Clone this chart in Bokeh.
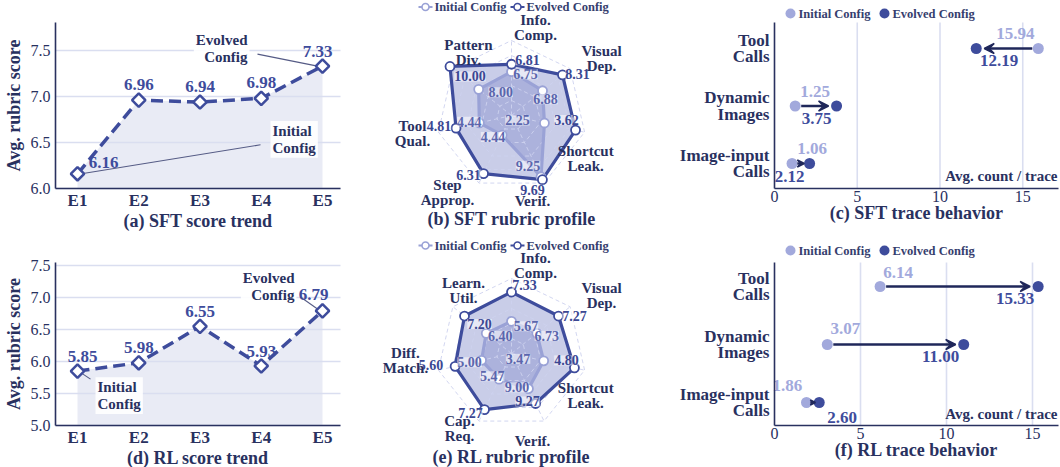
import numpy as np
from bokeh.plotting import figure
from bokeh.layouts import row, column
from bokeh.models import Range1d, FixedTicker, Arrow, VeeHead, PrintfTickFormatter
from bokeh.core.properties import value
from bokeh.embed import file_html
from bokeh.resources import INLINE

FONT = "Liberation Serif"
DARK = "#29315f"
MAIN = "#3e4c9c"
LIGHT = "#a2a9dc"
ARROW = "#1f275a"
GRID = "#dadef0"
TF = value(FONT)

# ---------------- data ----------------
epochs = ["E1", "E2", "E3", "E4", "E5"]
sft_scores = [6.16, 6.96, 6.94, 6.98, 7.33]
rl_scores = [5.85, 5.98, 6.55, 5.93, 6.79]

sft_axes = ["Info.\nComp.", "Visual\nDep.", "Shortcut\nLeak.", "Verif.", "Step\nApprop.", "Tool\nQual.", "Pattern\nDiv."]
sft_initial = [6.75, 6.88, 2.25, 9.25, 4.44, 4.44, 8.00]
sft_evolved = [6.81, 8.31, 3.62, 9.69, 6.31, 4.81, 10.00]
rl_axes = ["Info.\nComp.", "Visual\nDep.", "Shortcut\nLeak.", "Verif.", "Cap.\nReq.", "Diff.\nMatch.", "Learn.\nUtil."]
rl_initial = [5.67, 6.73, 3.47, 9.00, 5.47, 5.00, 6.40]
rl_evolved = [7.33, 7.27, 4.80, 9.27, 7.27, 5.60, 7.20]

# per-axis radial scale (min, max) of each radar
sft_axis_lo = [6.40, 4.65, 0.80, 0.0, 3.49, 3.93, 5.71]
sft_axis_hi = [7.00, 8.86, 4.02, 10.2, 6.77, 5.09, 9.80]
rl_axis_lo = [3.84, 6.10, 2.08, 8.36, 3.95, 4.32, 5.47]
rl_axis_hi = [8.10, 7.56, 5.24, 9.59, 7.95, 5.98, 7.63]

behaviors = ["Image-input\nCalls", "Dynamic\nImages", "Tool\nCalls"]
sft_beh_initial = [1.06, 1.25, 15.94]
sft_beh_evolved = [2.12, 3.75, 12.19]
rl_beh_initial = [1.86, 3.07, 6.14]
rl_beh_evolved = [2.60, 11.00, 15.33]


def base_fig(**kw):
    p = figure(output_backend="svg", toolbar_location=None, min_border=0, **kw)
    p.outline_line_color = None
    p.background_fill_color = "white"
    p.border_fill_color = "white"
    p.grid.visible = False
    return p


def style_axis(ax, label_size="15px", bold=False):
    ax.axis_line_color = DARK
    ax.axis_line_width = 1.6
    ax.major_tick_line_color = None
    ax.minor_tick_line_color = None
    ax.major_tick_out = 0
    ax.major_tick_in = 0
    ax.minor_tick_out = 0
    ax.minor_tick_in = 0
    ax.major_label_text_font = FONT
    ax.major_label_text_font_size = label_size
    ax.major_label_text_color = DARK
    ax.major_label_text_font_style = "bold" if bold else "normal"
    ax.axis_label_text_font = FONT
    ax.axis_label_text_font_style = "bold"
    ax.axis_label_text_color = DARK
    ax.axis_label_text_font_size = "18px"


def txt(p, x, y, t, size, color, align="center", dx=0, dy=0, lh=1.2, bg=None, bg_alpha=0.55):
    kw = dict(background_fill_color=bg, background_fill_alpha=bg_alpha) if bg else {}
    p.text(x=list(x), y=list(y), text=list(t), x_offset=dx, y_offset=dy, text_align=align,
           text_baseline="middle", text_font=TF, text_font_style="bold", text_font_size=size,
           text_color=color, text_line_height=lh, **kw)


# ---------------- line panels ----------------
# line panel spans page x 0..345; plot area x 55..340
def line_panel(scores, y0, px_per, y_axis_px, y_top_px, ticks, title, row_top, h,
               lab_off, ev_ann, in_ann):
    pxx = 61.25                      # px per epoch step
    e1_px = 77.0                     # E1 position (px in page)
    xs, xe = (0 - e1_px) / pxx, (345 - e1_px) / pxx
    x_lo, x_hi = (55 - e1_px) / pxx, (340 - e1_px) / pxx
    ys = y0 - (row_top + h - y_axis_px) / px_per
    ye = y0 + (y_axis_px - row_top) / px_per
    y_hi = y0 + (y_axis_px - y_top_px) / px_per
    p = base_fig(width=345, height=h, x_range=Range1d(xs, xe), y_range=Range1d(ys, ye))
    x = list(range(len(scores)))
    p.varea(x=x, y1=[y0] * len(x), y2=scores, fill_color="#e9ebf5", level="image")
    p.segment(x0=[x_lo] * len(ticks), y0=ticks, x1=[x_hi] * len(ticks), y1=ticks,
              line_color=GRID, line_width=1.6, level="underlay")
    p.xaxis.ticker = FixedTicker(ticks=x)
    p.xaxis.major_label_overrides = {i: e for i, e in enumerate(epochs)}
    p.yaxis.ticker = FixedTicker(ticks=ticks)
    p.yaxis.formatter = PrintfTickFormatter(format="%.1f")
    style_axis(p.xaxis[0], "17px", True)
    style_axis(p.yaxis[0], "16px", False)
    p.xaxis.fixed_location = y0
    p.xaxis.bounds = (x_lo, x_hi)
    p.yaxis.fixed_location = x_lo
    p.yaxis.bounds = (y0, y_hi)
    p.xaxis.major_label_standoff = 2
    p.yaxis.major_label_standoff = 5
    p.xaxis.axis_label = title
    p.xaxis.axis_label_standoff = -2
    p.yaxis.axis_label = "Avg. rubric score"
    p.yaxis.axis_label_standoff = 4

    for (idx, dx, dy, align, (s0x, s0y, s1x, s1y), t) in (ev_ann, in_ann):
        xi, yi = x[idx], scores[idx]
        p.segment(x0=xi + s0x / pxx, y0=yi - s0y / px_per, x1=xi + s1x / pxx, y1=yi - s1y / px_per,
                  line_color="#555b85", line_width=1.1)
        p.text(x=[xi], y=[yi], text=[t], x_offset=dx, y_offset=dy, text_align=align,
               text_baseline="middle", text_font=TF, text_font_style="bold", text_font_size="15px",
               text_color=DARK, text_line_height=1.05,
               background_fill_color="white", background_fill_alpha=0.9, padding=2)

    p.line(x, scores, line_color=MAIN, line_width=3.5, line_dash="12 6")
    p.scatter(x, scores, marker="square", angle=np.pi / 4, size=9.5, fill_color="white",
              line_color=MAIN, line_width=2.5)
    p.text(x=x, y=scores, text=[f"{v:.2f}" for v in scores],
           x_offset=[o[0] for o in lab_off], y_offset=[o[1] for o in lab_off],
           text_align="center", text_baseline="middle", text_font=TF, text_font_style="bold",
           text_font_size="17px", text_color=MAIN)
    return p


sft_line = line_panel(sft_scores, 6.0, 92.0, 188.0, 22.4, [6.0, 6.5, 7.0, 7.5], "(a) SFT score trend", 0, 232,
                      [(26, -11), (0, -16), (0, -16), (0, -16), (-5, -15)],
                      (4, -73, -18, "right", (-65, -12, -5, 0), "Evolved\nConfig"),
                      (0, 193, -34.5, "left", (4, 0, 183, -29), "Initial\nConfig"))
rl_line = line_panel(rl_scores, 5.0, 64.0, 425.0, 262.0, [5.0, 5.5, 6.0, 6.5, 7.0, 7.5], "(d) RL score trend",
                     232, 235,
                     [(5, -15), (0, -15), (0, -15), (0, -14), (-9, -16)],
                     (4, -26, -24.5, "right", (-22, -14, -5, -2), "Evolved\nConfig"),
                     (0, 18, 24.5, "left", (4, 2, 13, 8), "Initial\nConfig"))


# ---------------- radar panels ----------------
def radar_panel(axes, init, evo, lo, hi, cy, row_top, h, title, lab_off, evo_off, init_off, leg_y):
    cx, RAD = 511.0, 75.0
    p = base_fig(width=320, height=h, x_range=Range1d(345, 665), y_range=Range1d(row_top + h, row_top),
                 x_axis_location=None, y_axis_location=None)
    n = len(axes)
    th = np.pi / 2 - 2 * np.pi * np.arange(n) / n
    c, s = np.cos(th), np.sin(th)

    def pts(vals):
        r = (np.array(vals) - np.array(lo)) / (np.array(hi) - np.array(lo))
        return cx + RAD * r * c, cy - RAD * r * s

    ex, ey = pts(evo)
    ix, iy = pts(init)
    p.patch(list(ex), list(ey), fill_color="#c6cae7", fill_alpha=0.95, line_color=None)
    p.patch(list(ix), list(iy), fill_color="#949dd2", fill_alpha=0.55, line_color=None)
    for f in [0.2, 0.4, 0.6, 0.8, 1.0]:
        gx = list(cx + RAD * f * c) + [cx + RAD * f * c[0]]
        gy = list(cy - RAD * f * s) + [cy - RAD * f * s[0]]
        p.line(gx, gy, line_color="#cdd2ee", line_width=1, line_dash="4 3", line_alpha=0.9)
    p.segment(x0=[cx] * n, y0=[cy] * n, x1=list(cx + RAD * c), y1=list(cy - RAD * s),
              line_color="#cdd2ee", line_width=1, line_dash="4 3", line_alpha=0.9)
    p.line(list(ix) + [ix[0]], list(iy) + [iy[0]], line_color="#9aa2d6", line_width=3.2)
    p.line(list(ex) + [ex[0]], list(ey) + [ey[0]], line_color=MAIN, line_width=3.2)
    p.scatter(ix, iy, size=9, fill_color="white", line_color="#9aa2d6", line_width=1.8)
    p.scatter(ex, ey, size=9, fill_color="white", line_color=MAIN, line_width=1.8)
    txt(p, ix, iy, [f"{v:.2f}" for v in init], "14px", "#5b66ad",
        dx=[o[0] for o in init_off], dy=[o[1] for o in init_off], bg="white")
    txt(p, ex, ey, [f"{v:.2f}" for v in evo], "14px", "#3b4793",
        dx=[o[0] for o in evo_off], dy=[o[1] for o in evo_off], bg="white")
    LR = 1.22 * RAD
    txt(p, cx + LR * c, cy - LR * s, axes, "15px", DARK,
        dx=[o[0] for o in lab_off], dy=[o[1] for o in lab_off], lh=0.95)
    txt(p, [cx], [cy + 103], [title], "18px", DARK)
    # legend
    for lx, col, lab in ((425, "#9aa2d6", "Initial Config"), (517, MAIN, "Evolved Config")):
        p.segment(x0=[lx - 7], y0=[leg_y], x1=[lx + 7], y1=[leg_y], line_color=col, line_width=1.8)
        p.scatter([lx], [leg_y], size=7, fill_color="white", line_color=col, line_width=1.6)
        txt(p, [lx + 9], [leg_y], [lab], "12.5px", "#363e6e", align="left")
    return p


sft_radar = radar_panel(sft_axes, sft_initial, sft_evolved, sft_axis_lo, sft_axis_hi, 115.0, 0, 232,
                        "(b) SFT rubric profile",
                        [(24, 3.5), (18.5, 0), (-15, 22.5), (-18.7, 2.6), (-24.3, -5.4), (-9.8, -2.4), (28.5, -5.9)],
                        [(16, -4), (15, -1), (-9, -10), (-10, 10), (-15, 1), (-17, -2), (20, 10)],
                        [(14, 2.5), (3, 8.5), (-27, -2.6), (-13, -11), (-9, 2), (-10, -1), (22, 3)],
                        6.5)
rl_radar = radar_panel(rl_axes, rl_initial, rl_evolved, rl_axis_lo, rl_axis_hi, 353.0, 232, 235,
                       "(e) RL rubric profile",
                       [(24, 3.5), (18.5, -1), (-15, 21.6), (-18.7, 4.6), (-12.3, -7.4), (-16.8, -13.4), (23.5, -5.9)],
                       [(13, -7), (16, 0), (-8, -7.5), (-8, -2), (-14, 3.5), (-24, -1), (15, 8)],
                       [(14.5, 5), (10, 2.5), (-25.6, -2), (-11.5, -1.3), (-7, -3), (-12, 2), (14, 2.5)],
                       245.0)


# ---------------- dumbbell panels ----------------
# dumbbell panel spans page x 665..1060; x = 0 sits at page x 774
def dumb_panel(init, evo, pxx, cat0_px, px_per, axis_px, top_px, row_top, h, title,
               init_off, evo_off, leg_px, note_px):
    W, L = 395, 109
    x_end = (W - L) / pxx
    x_ax_end = (W - L - 2) / pxx
    ys = (cat0_px - (row_top + h)) / px_per
    ye = (cat0_px - row_top) / px_per
    y_lo = (cat0_px - axis_px) / px_per
    y_hi = (cat0_px - top_px) / px_per
    p = base_fig(width=W, height=h, x_range=Range1d(-L / pxx, x_end), y_range=Range1d(ys, ye))
    xt = [0, 5, 10, 15]
    p.segment(x0=xt[1:], y0=[y_lo] * 3, x1=xt[1:], y1=[y_hi] * 3, line_color=GRID,
              line_width=1.6, level="underlay")
    y = list(range(len(init)))
    p.xaxis.ticker = FixedTicker(ticks=xt)
    p.yaxis.ticker = FixedTicker(ticks=y)
    p.yaxis.major_label_overrides = {i: b for i, b in enumerate(behaviors)}
    style_axis(p.xaxis[0], "16px", False)
    style_axis(p.yaxis[0], "17px", True)
    p.xaxis.fixed_location = y_lo
    p.xaxis.bounds = (0, x_ax_end)
    p.yaxis.fixed_location = 0
    p.yaxis.bounds = (y_lo, y_hi)
    p.yaxis.major_label_standoff = 5
    p.yaxis.major_label_text_line_height = 0.85
    p.xaxis.major_label_standoff = 2
    p.xaxis.axis_label = title
    p.xaxis.axis_label_standoff = -2
    for xi, xe, yy in zip(init, evo, y):
        d = abs(xe - xi) * pxx
        sgn = 1 if xe > xi else -1
        s0 = min(6.0, d * 0.3) / pxx
        s1 = min(8.0, d * 0.3) / pxx
        p.add_layout(Arrow(x_start=xi + sgn * s0, y_start=yy, x_end=xe - sgn * s1, y_end=yy,
                           line_color=ARROW, line_width=2.4,
                           end=VeeHead(size=min(10, max(4, d * 0.4)), fill_color=ARROW, line_color=ARROW,
                                       line_width=1.5)))
    p.scatter(init, y, size=11, fill_color=LIGHT, line_color=None)
    p.scatter(evo, y, size=11, fill_color=MAIN, line_color=None)
    txt(p, init, y, [f"{v:.2f}" for v in init], "17px", LIGHT,
        dx=[o[0] for o in init_off], dy=[o[1] for o in init_off])
    txt(p, evo, y, [f"{v:.2f}" for v in evo], "17px", MAIN,
        dx=[o[0] for o in evo_off], dy=[o[1] for o in evo_off])
    txt(p, [x_ax_end], [(cat0_px - note_px) / px_per], ["Avg. count / trace"], "15px", DARK,
        align="right", dx=-1)
    ly = (cat0_px - leg_px) / px_per
    for lpx, col, lab in ((16, LIGHT, "Initial Config"), (110, MAIN, "Evolved Config")):
        p.scatter([lpx / pxx], [ly], size=10, fill_color=col, line_color=None)
        txt(p, [lpx / pxx], [ly], [lab], "12.5px", "#363e6e", align="left", dx=8)
    return p


sft_dumb = dumb_panel(sft_beh_initial, sft_beh_evolved, 16.55, 163.0, 57.5, 188.0, 22.0, 0, 232,
                      "(c) SFT trace behavior",
                      [(20, -15), (20, -15), (-23, -15)], [(-20, 13), (-20, 12), (23, 12)],
                      13.0, 175.0)
rl_dumb = dumb_panel(rl_beh_initial, rl_beh_evolved, 17.2, 402.0, 58.0, 425.0, 262.0, 232, 235,
                     "(f) RL trace behavior",
                     [(-19, -17), (18, -16), (18, -14)], [(23, 15), (-23, 12), (-23, 12)],
                     250.0, 413.0)

layout = column(row(sft_line, sft_radar, sft_dumb), row(rl_line, rl_radar, rl_dumb))
open("out.html", "w").write(file_html(layout, INLINE))
